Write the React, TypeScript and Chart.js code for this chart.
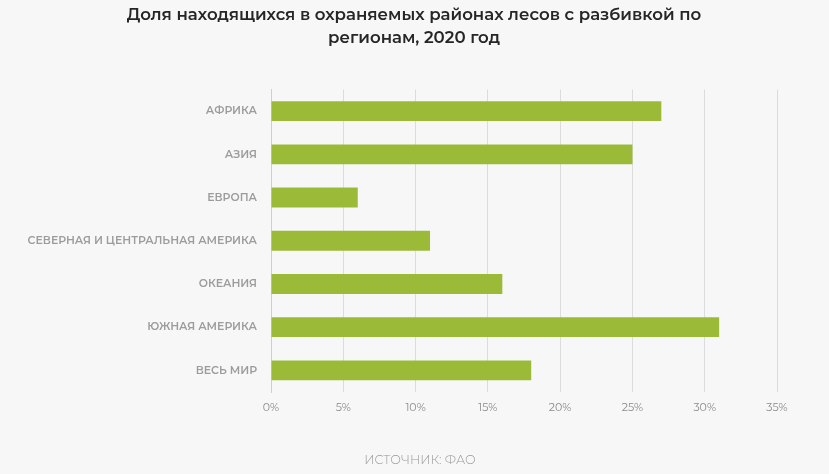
import React, { useEffect, useRef } from "react";
import { Chart, registerables } from "chart.js";

Chart.register(...registerables);

const categories = [
  "АФРИКА",
  "АЗИЯ",
  "ЕВРОПА",
  "СЕВЕРНАЯ И ЦЕНТРАЛЬНАЯ АМЕРИКА",
  "ОКЕАНИЯ",
  "ЮЖНАЯ АМЕРИКА",
  "ВЕСЬ МИР",
];
const values = [27, 25, 6, 11, 16, 31, 18];
const titleLines = [
  "Доля находящихся в охраняемых районах лесов с разбивкой по",
  "регионам, 2020 год",
];
const sourceText = "ИСТОЧНИК: ФАО";
const FONT = "Montserrat, 'Open Sans', Lato, sans-serif";

export default function App() {
  const ref = useRef<HTMLCanvasElement | null>(null);
  useEffect(() => {
    if (!ref.current) return;
    const chart = new Chart(ref.current, {
      type: "bar",
      data: {
        labels: categories,
        datasets: [
          {
            data: values,
            backgroundColor: "#9bbb38",
            borderWidth: 0,
            barPercentage: 0.46,
            categoryPercentage: 1,
          },
        ],
      },
      options: {
        indexAxis: "y",
        animation: false,
        responsive: false,
        maintainAspectRatio: false,
        layout: { padding: { top: 89.5, bottom: 52, left: 10, right: 52 } },
        plugins: {
          legend: { display: false },
          tooltip: { enabled: false },
          title: { display: false },
        },
        scales: {
          x: {
            min: 0,
            max: 35,
            ticks: {
              stepSize: 5,
              callback: (v: any) => v + "%",
              color: "#8c8c8c",
              font: { family: FONT, size: 11, weight: "normal" },
              padding: 9,
            },
            grid: { color: "#dcdcdc", drawTicks: false },
            border: { display: false },
            afterFit: (s: any) => {
              s.height = 30;
            },
          },
          y: {
            ticks: {
              color: "#9c9c9c",
              font: { family: FONT, size: 10.9, weight: "600" },
              padding: 14,
            },
            grid: { display: false, drawTicks: false },
            border: { display: true, color: "#cfcfcf" },
            afterFit: (s: any) => {
              s.width = 261;
            },
          },
        },
      },
    });
    return () => chart.destroy();
  }, []);
  return (
    <div
      style={{
        position: "fixed",
        left: 0,
        top: 0,
        width: 829,
        height: 474,
        background: "#f7f7f7",
        fontFamily: FONT,
      }}
    >
      <canvas
        ref={ref}
        width={829}
        height={474}
        style={{ position: "absolute", left: 0, top: 0 }}
      />
      <div
        style={{
          position: "absolute",
          left: 0,
          top: 2.5,
          width: 828,
          textAlign: "center",
          fontSize: 16.6,
          fontWeight: 600,
          lineHeight: "23px",
          color: "#262626",
        }}
      >
        {titleLines.map((t, i) => (
          <div key={i}>{t}</div>
        ))}
      </div>
      <div
        style={{
          position: "absolute",
          left: 0,
          top: 452,
          width: 840,
          textAlign: "center",
          fontSize: 12.5,
          fontWeight: 300,
          lineHeight: "16px",
          color: "#999",
        }}
      >
        {sourceText}
      </div>
    </div>
  );
}
